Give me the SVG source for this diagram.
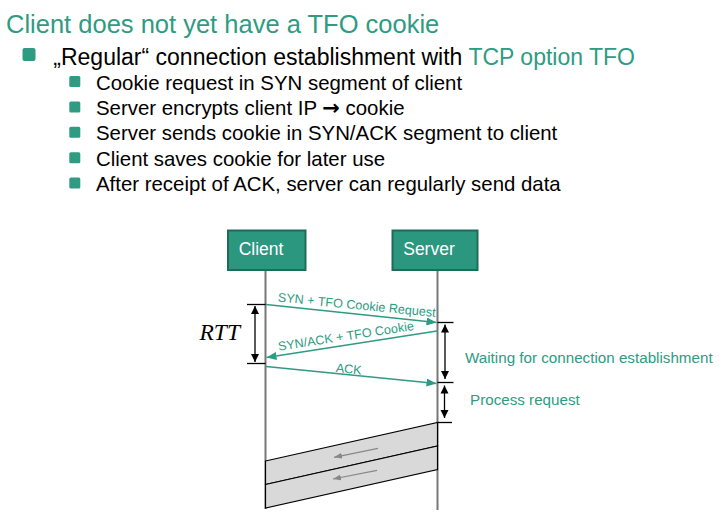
<svg xmlns="http://www.w3.org/2000/svg" width="723" height="521" viewBox="0 0 723 521">
<style>
text{font-family:"Liberation Sans",Arial,sans-serif}
.title{font-size:25.5px;fill:#2e9b82}
.b1{font-size:23px;fill:#000}
.b2{font-size:20.4px;fill:#000}
.teal{fill:#2e9b82}
.bul{fill:#2e9b82}
.box{fill:#2b977f;stroke:#1f6b5a;stroke-width:2}
.boxt{font-size:17.5px;fill:#fff;text-anchor:middle}
.life{stroke:#777;stroke-width:2;fill:none}
.msg{stroke:#2e9b82;stroke-width:1.3;fill:none;marker-end:url(#ah)}
.lbl{font-size:12.6px;fill:#2e9b82;text-anchor:middle}
.tick{stroke:#000;stroke-width:1.3;fill:none}
.dbl{stroke:#000;stroke-width:1.3;fill:none;marker-start:url(#bk);marker-end:url(#bk)}
.note{font-size:15.2px;fill:#2e9b82}
.seg{fill:#d9d9d9;stroke:#000;stroke-width:1.2}
.ga{stroke:#888;stroke-width:1.2;fill:none;marker-end:url(#gh)}
.arr{font-family:"DejaVu Sans",sans-serif;font-size:21px;font-weight:bold}
</style>
<defs>
<marker id="ah" viewBox="0 0 10 8" refX="10" refY="4" markerWidth="10" markerHeight="8" markerUnits="userSpaceOnUse" orient="auto"><path d="M0,0 L10,4 L0,8 Z" fill="#2e9b82"/></marker>
<marker id="bk" viewBox="0 0 8 10" refX="8" refY="5" markerWidth="8" markerHeight="10" markerUnits="userSpaceOnUse" orient="auto-start-reverse"><path d="M0,1 L8,5 L0,9 Z" fill="#000"/></marker>
<marker id="gh" viewBox="0 0 8 6" refX="8" refY="3" markerWidth="8" markerHeight="6" markerUnits="userSpaceOnUse" orient="auto"><path d="M0,0 L8,3 L0,6 Z" fill="#888"/></marker>
</defs>

<g id="header">
<text class="title" x="6" y="32.7">Client does not yet have a TFO cookie</text>
<rect class="bul" x="22.5" y="48" width="13" height="13" rx="2"/>
<text class="b1" x="53.3" y="64.8">„Regular“ connection establishment with <tspan class="teal">TCP option TFO</tspan></text>
<rect class="bul" x="69.3" y="76" width="11" height="11" rx="1.5"/>
<text class="b2" x="96" y="89.5">Cookie request in SYN segment of client</text>
<rect class="bul" x="69.3" y="101.4" width="11" height="11" rx="1.5"/>
<text class="b2" x="96" y="114.9">Server encrypts client IP <tspan class="arr">→</tspan> cookie</text>
<rect class="bul" x="69.3" y="126.8" width="11" height="11" rx="1.5"/>
<text class="b2" x="96" y="140.3">Server sends cookie in SYN/ACK segment to client</text>
<rect class="bul" x="69.3" y="152.2" width="11" height="11" rx="1.5"/>
<text class="b2" x="96" y="165.7">Client saves cookie for later use</text>
<rect class="bul" x="69.3" y="177.6" width="11" height="11" rx="1.5"/>
<text class="b2" x="96" y="191.1">After receipt of ACK, server can regularly send data</text>
</g>

<g id="client">
<line class="life" x1="265.5" y1="270" x2="265.5" y2="509"/>
<rect class="box" x="228" y="230.5" width="77.5" height="39.5"/>
<text class="boxt" x="261" y="254.5">Client</text>
</g>

<g id="server">
<line class="life" x1="437.5" y1="270" x2="437.5" y2="510"/>
<rect class="box" x="392.5" y="230.5" width="85" height="39.5"/>
<text class="boxt" x="429" y="254.5">Server</text>
</g>

<g id="connectors">
<line class="msg" x1="266" y1="304.5" x2="436.5" y2="322.5"/>
<text class="lbl" transform="translate(356.4,309.2) rotate(5.6)">SYN + TFO Cookie Request</text>
<line class="msg" x1="437" y1="331" x2="266.5" y2="357.5"/>
<text class="lbl" transform="translate(346.5,340.3) rotate(-8.7)">SYN/ACK + TFO Cookie</text>
<line class="msg" x1="266" y1="366.5" x2="436.5" y2="383.5"/>
<text class="lbl" transform="translate(348.3,373.3) rotate(5.7)">ACK</text>
</g>

<g id="rtt">
<line class="tick" x1="247" y1="304.5" x2="265.5" y2="304.5"/>
<line class="tick" x1="247" y1="363.5" x2="265.5" y2="363.5"/>
<line class="dbl" x1="255" y1="306" x2="255" y2="362"/>
<text x="199.5" y="340" style="font-family:'Liberation Serif','Times New Roman',serif;font-style:italic;font-size:23.5px;fill:#000">RTT</text>
</g>

<g id="waiting">
<line class="tick" x1="437.5" y1="322.5" x2="453.5" y2="322.5"/>
<line class="tick" x1="437.5" y1="382.5" x2="453.5" y2="382.5"/>
<line class="dbl" x1="445" y1="324.5" x2="445" y2="379"/>
<text class="note" x="465" y="363.3">Waiting for connection establishment</text>
</g>

<g id="process">
<line class="tick" x1="437.5" y1="422.5" x2="452" y2="422.5"/>
<line class="dbl" x1="444.5" y1="385.5" x2="444.5" y2="418"/>
<text class="note" x="470" y="405">Process request</text>
</g>

<g id="data">
<polygon class="seg" points="265.5,461 437.5,422.5 437.5,446 265.5,484.5"/>
<polygon class="seg" points="265.5,484.5 437.5,446 437.5,469.5 265.5,508"/>
<line class="ga" x1="378" y1="448.3" x2="334" y2="457.3"/>
<line class="ga" x1="377" y1="470.3" x2="333" y2="479"/>
</g>
</svg>
